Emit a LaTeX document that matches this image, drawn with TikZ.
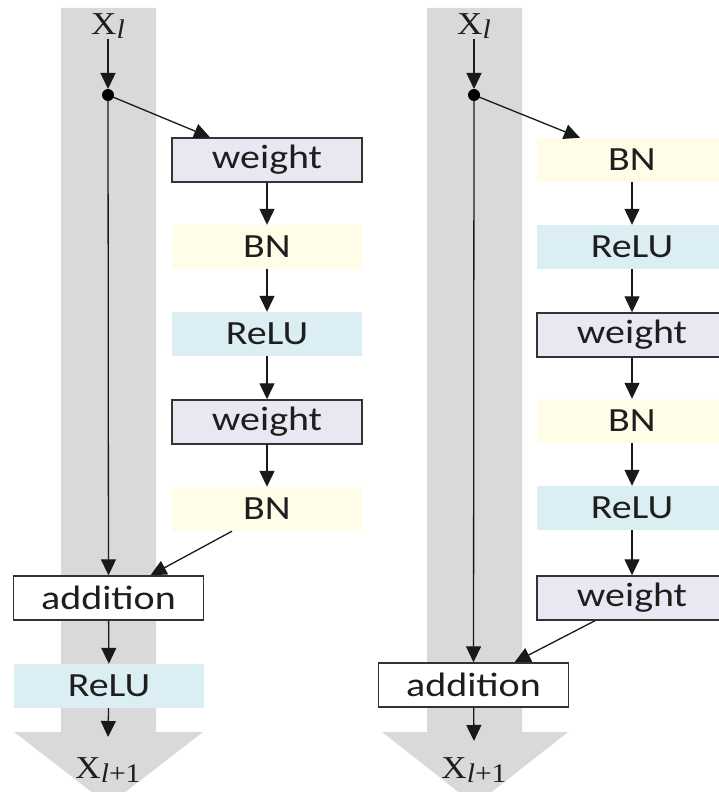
\documentclass[tikz,border=0pt]{standalone}
\usepackage{fontspec}
\usepackage{tikz}
\usetikzlibrary{arrows.meta}
\newfontfamily\boxfont[FakeStretch=1.18]{Carlito}
\newfontfamily\labelfont[FakeStretch=1.1]{Liberation Serif}
\definecolor{bandgray}{RGB}{217,217,217}
\definecolor{weightlila}{RGB}{233,231,242}
\definecolor{bnyellow}{RGB}{255,253,231}
\definecolor{relublue}{RGB}{219,238,244}
\definecolor{textgray}{RGB}{30,30,30}
\newcommand{\xlabel}[1]{X\raisebox{-4bp}{\fontsize{27}{27}\selectfont\textit{l}#1}}

\begin{document}
\begin{tikzpicture}[x=1bp,y=-1bp,
  block/.style={minimum width=190bp,minimum height=44bp,inner sep=0pt,
    font=\boxfont\fontsize{34}{36}\selectfont,text=textgray},
  weightbox/.style={block,fill=weightlila,draw=black!80,line width=1.4bp},
  bnbox/.style={block,fill=bnyellow},
  relubox/.style={block,fill=relublue},
  addbox/.style={block,fill=white,draw=black!80,line width=1.4bp},
  xnode/.style={font=\labelfont\fontsize{32}{34}\selectfont,text=textgray,inner sep=0pt},
  flow/.style={-{Triangle[length=16bp,width=15bp]},line width=1.3bp,draw=black!90}]

\useasboundingbox (0,0) rectangle (719,792);
\clip (0,0) rectangle (719,792);

% Gray bands
\fill[bandgray] (61,8) -- (156,8) -- (156,732) -- (203,732) -- (108.5,805)
  -- (14,732) -- (61,732) -- cycle;
\fill[bandgray] (427,8) -- (522,8) -- (522,732) -- (568,732) -- (475,805)
  -- (382,732) -- (427,732) -- cycle;

% Left block
\node[xnode] (xin1) at (108,26) {\xlabel{}};
\coordinate (split1) at (108,95);
\node[weightbox] (weight1) at (267,160) {weight};
\node[bnbox] (bn1) at (267,247) {BN};
\node[relubox] (relu1) at (267,334) {ReLU};
\node[weightbox] (weight2) at (267,422) {weight};
\node[bnbox] (bn2) at (267,509) {BN};
\node[addbox] (add1) at (108.5,598) {addition};
\node[relubox] (relu2) at (109,686) {ReLU};
\coordinate (end1) at (108,737);
\node[xnode] (xout1) at (108,770) {\xlabel{+1}};

\draw[flow,shorten >=6bp] (xin1) -- (split1);
\draw[flow] (split1) -- ([xshift=-57bp]weight1.north);
\draw[flow] (weight1) -- (bn1);
\draw[flow] (bn1) -- (relu1);
\draw[flow] (relu1) -- (weight2);
\draw[flow] (weight2) -- (bn2);
\draw[flow] ([xshift=-35bp]bn2.south) -- ([xshift=42bp]add1.north);
\draw[flow] (split1) -- (add1);
\draw[flow] (add1) -- (relu2);
\draw[flow] (relu2) -- (end1);
\fill[black] (split1) circle (6bp);

% Right block
\node[xnode] (xin2) at (474,26) {\xlabel{}};
\coordinate (split2) at (474,95);
\node[bnbox] (bn3) at (632,160) {BN};
\node[relubox] (relu3) at (632,247) {ReLU};
\node[weightbox] (weight3) at (632,335) {weight};
\node[bnbox] (bn4) at (632,421) {BN};
\node[relubox] (relu4) at (632,508) {ReLU};
\node[weightbox] (weight4) at (632,598) {weight};
\node[addbox] (add2) at (473.5,685) {addition};
\coordinate (end2) at (474,741);
\node[xnode] (xout2) at (474,770) {\xlabel{+1}};

\draw[flow,shorten >=6bp] (xin2) -- (split2);
\draw[flow] (split2) -- ([xshift=-52bp]bn3.north);
\draw[flow] (bn3) -- (relu3);
\draw[flow] (relu3) -- (weight3);
\draw[flow] (weight3) -- (bn4);
\draw[flow] (bn4) -- (relu4);
\draw[flow] (relu4) -- (weight4);
\draw[flow] ([xshift=-37bp]weight4.south) -- ([xshift=41bp]add2.north);
\draw[flow] (split2) -- (add2);
\draw[flow] (add2) -- (end2);
\fill[black] (split2) circle (6bp);

\end{tikzpicture}
\end{document}
